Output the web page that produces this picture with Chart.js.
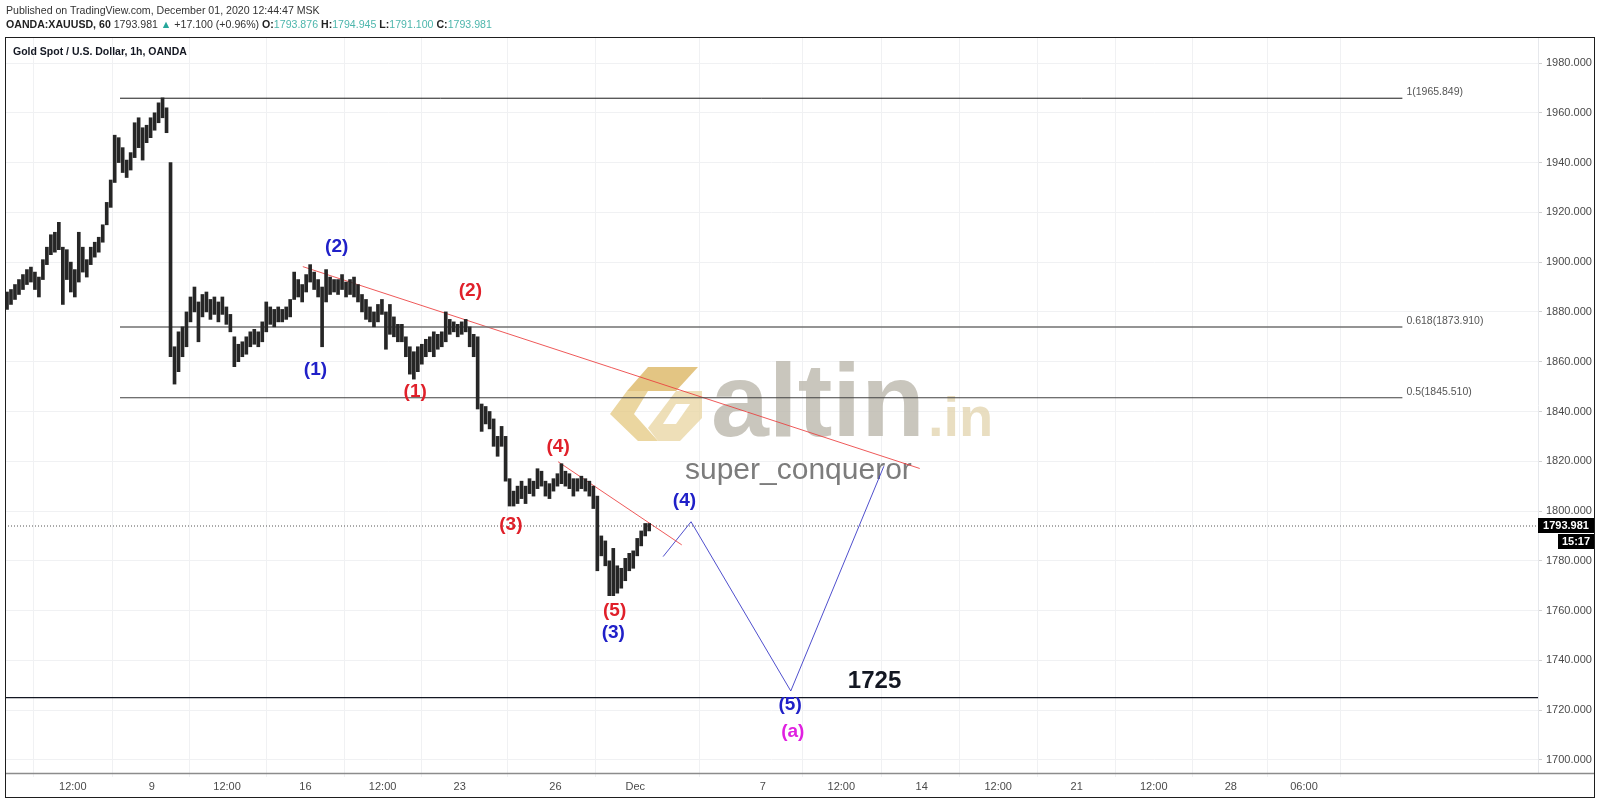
<!DOCTYPE html>
<html>
<head>
<meta charset="utf-8">
<title>XAUUSD 1h</title>
<script src="https://cdn.jsdelivr.net/npm/chart.js@4.4.0/dist/chart.umd.min.js"></script>
<style>
  body { margin: 0; background: #fff; font-family: "Liberation Sans", Arial, sans-serif; }
  #wrap { position: relative; width: 1600px; height: 804px; overflow: hidden; }
  #chart { position: absolute; left: 0; top: 0; }
  .hdr { position: absolute; left: 6px; font-size: 10.6px; color: #333; white-space: nowrap; line-height: 13px; }
  .hdr b { font-weight: bold; color: #222; }
  .up { color: #26a69a; }
  .val { color: #4db6ac; }
  #title { position: absolute; left: 13px; top: 45px; font-size: 10.5px; font-weight: bold; color: #131722; white-space: nowrap; }
</style>
</head>
<body>
<div id="wrap">
  <canvas id="chart" width="1600" height="804"></canvas>
  <div class="hdr" style="top:4px">Published on TradingView.com, December 01, 2020 12:44:47 MSK</div>
  <div class="hdr" style="top:18px"><b>OANDA:XAUUSD, 60</b> 1793.981 <span class="up">&#9650;</span> +17.100 (+0.96%) <b>O:</b><span class="val">1793.876</span> <b>H:</b><span class="val">1794.945</span> <b>L:</b><span class="val">1791.100</span> <b>C:</b><span class="val">1793.981</span></div>
  <div id="title">Gold Spot / U.S. Dollar, 1h, OANDA</div>
</div>
<script>
// ================= DATA =================
// price axis ticks
const priceTicks = [1700, 1720, 1740, 1760, 1780, 1800, 1820, 1840, 1860, 1880, 1900, 1920, 1940, 1960, 1980];

// time axis (x in hourly bar numbers)
const timeTickBars = [51, 110.5, 167, 226, 284, 342, 414, 474, 570, 629, 689.5, 747, 806, 864, 922, 977];
const timeTickLabels = ["12:00", "9", "12:00", "16", "12:00", "23", "26", "Dec", "7", "12:00", "14", "12:00", "21", "12:00", "28", "06:00"];

// price bars, one per 3 hours (low / high)
const barLows = [
  1881, 1883, 1885, 1887, 1889, 1891, 1892, 1889, 1886, 1893,
  1899, 1903, 1904, 1905, 1883, 1893, 1888, 1886, 1892, 1896,
  1894, 1899, 1902, 1904, 1908, 1915, 1922, 1932, 1940, 1936,
  1934, 1937, 1942, 1946, 1941, 1948, 1950, 1953, 1956, 1958,
  1952, 1862, 1851, 1856, 1862, 1866, 1876, 1880, 1868, 1878,
  1880, 1877, 1879, 1876, 1879, 1875, 1872, 1858, 1860, 1862,
  1863, 1866, 1867, 1866, 1868, 1872, 1875, 1874, 1876, 1876,
  1877, 1878, 1885, 1886, 1884, 1888, 1892, 1889, 1886, 1866,
  1884, 1887, 1888, 1887, 1889, 1886, 1887, 1886, 1884, 1880,
  1877, 1876, 1874, 1876, 1879, 1865, 1871, 1870, 1868, 1868,
  1862, 1855, 1853, 1856, 1859, 1862, 1864, 1862, 1865, 1866,
  1868, 1871, 1872, 1870, 1871, 1872, 1866, 1862, 1841, 1832,
  1835, 1833, 1826, 1822, 1826, 1812, 1802, 1802, 1803, 1805,
  1803, 1807, 1806, 1809, 1810, 1806, 1805, 1808, 1810, 1811,
  1810, 1809, 1806, 1808, 1809, 1808, 1806, 1801, 1776, 1782,
  1778, 1766, 1766, 1767, 1769, 1772, 1776, 1777, 1782, 1786,
  1790, 1792
];
const barHighs = [
  1888, 1889, 1891, 1893, 1895, 1897, 1898, 1896, 1894, 1901,
  1906, 1911, 1912, 1916, 1906, 1905, 1900, 1897, 1912, 1906,
  1901, 1906, 1908, 1910, 1915, 1924, 1933, 1951, 1950, 1946,
  1941, 1944, 1956, 1958, 1954, 1955, 1958, 1960, 1964, 1966,
  1962, 1940, 1866, 1872, 1874, 1880, 1886, 1890, 1884, 1887,
  1888, 1885, 1886, 1884, 1886, 1882, 1879, 1870, 1867, 1868,
  1870, 1872, 1873, 1872, 1876, 1884, 1882, 1881, 1882, 1881,
  1882, 1885, 1896, 1893, 1891, 1895, 1899, 1896, 1893, 1890,
  1897, 1894, 1893, 1893, 1895, 1892, 1893, 1894, 1891, 1887,
  1885, 1882, 1880, 1883, 1885, 1880, 1883, 1878, 1875, 1875,
  1870, 1866, 1864, 1866, 1867, 1869, 1870, 1872, 1871, 1872,
  1880, 1877, 1876, 1875, 1876, 1877, 1874, 1871, 1870, 1843,
  1842, 1840, 1837, 1830, 1834, 1830, 1813, 1808, 1810, 1812,
  1810, 1813, 1812, 1817, 1816, 1812, 1811, 1813, 1815, 1819,
  1816, 1815, 1813, 1813, 1814, 1813, 1812, 1810, 1806, 1790,
  1788, 1780, 1785, 1778, 1777, 1781, 1783, 1784, 1789, 1792,
  1795, 1795
];
const lastPrice = 1793.981;

// fibonacci retracement levels
const fibLevels = [1965.849, 1873.910, 1845.510];
const fibNames = ["1", "0.618", "0.5"];
const fibStartBar = 86.5;
const fibEndBar = 1051;

const targetLevel = 1725;

// drawings: [bar, price]
const trendTop = [[224, 1898.2], [688, 1817.1]];
const trendLow = [[416, 1819.8], [509, 1786.4]];
const projection = [[495, 1781.7], [516, 1795.7], [591, 1727.7], [661, 1818.0]];

// wave labels
const waveText = ["(2)", "(1)", "(4)", "(3)", "(5)", "(a)", "(2)", "(1)", "(4)", "(3)", "(5)"];
const waveBar = [249.5, 233.5, 511, 457.5, 590.5, 592.5, 350, 308.5, 416, 380.5, 458.5];
const wavePrice = [1906.1, 1856.9, 1804.0, 1751.1, 1722.2, 1711.4, 1888.3, 1848.0, 1826.0, 1794.6, 1759.8];
const waveColor = ["#2020c8", "#2020c8", "#2020c8", "#2020c8", "#2020c8", "#e020e0", "#e0202a", "#e0202a", "#e0202a", "#e0202a", "#e0202a"];

// ================= HELPERS =================
function pts(list) {
  return list.map(p => ({ x: p[0], y: p[1] }));
}
function flat(price, from, to) {
  return [{ x: from, y: price }, { x: to, y: price }];
}
function lineSet(data, color, width, dash) {
  return {
    type: "line",
    data: data,
    borderColor: color,
    borderWidth: width,
    borderDash: dash || [],
    pointRadius: 0,
    tension: 0,
    order: 2
  };
}

// ================= PLUGIN : DRAWINGS =================
const drawings = {
  id: "drawings",
  beforeDatasetsDraw(chart) {
    const c = chart.ctx;
    c.save();
    // watermark logo
    c.fillStyle = "rgba(218, 178, 90, 0.75)";
    c.beginPath();
    c.moveTo(648, 367); c.lineTo(698, 367); c.lineTo(676, 391); c.lineTo(627, 391);
    c.closePath(); c.fill();
    c.fillStyle = "rgba(226, 196, 120, 0.7)";
    c.beginPath();
    c.moveTo(627, 391); c.lineTo(648, 391); c.lineTo(634, 414); c.lineTo(658, 441);
    c.lineTo(638, 441); c.lineTo(610, 414);
    c.closePath(); c.fill();
    c.fillStyle = "rgba(232, 212, 160, 0.75)";
    c.beginPath();
    c.moveTo(676, 391); c.lineTo(702, 391); c.lineTo(702, 418); c.lineTo(680, 441); c.lineTo(658, 441);
    c.lineTo(648, 428); c.closePath(); c.fill();
    c.fillStyle = "#fff";
    c.beginPath();
    c.moveTo(676, 404); c.lineTo(690, 404); c.lineTo(676, 424); c.lineTo(663, 424);
    c.closePath(); c.fill();

    c.textBaseline = "alphabetic";
    c.textAlign = "left";
    c.fillStyle = "rgba(188, 184, 172, 0.8)";
    c.font = "bold 104px 'Liberation Sans', Arial, sans-serif";
    c.fillText("altin", 711, 436);
    c.fillStyle = "rgba(228, 214, 178, 0.8)";
    c.font = "bold 56px 'Liberation Sans', Arial, sans-serif";
    c.fillText(".in", 928, 436);
    c.fillStyle = "#7c7c7c";
    c.font = "30px 'Liberation Sans', Arial, sans-serif";
    c.fillText("super_conqueror", 685, 479);
    c.restore();
  },
  afterDatasetsDraw(chart) {
    const c = chart.ctx;
    const xs = chart.scales.x, ys = chart.scales.y;
    c.save();
    // fib labels
    c.font = "10.5px 'Liberation Sans', Arial, sans-serif";
    c.fillStyle = "#555";
    c.textAlign = "left";
    c.textBaseline = "middle";
    fibLevels.forEach((lv, i) => {
      c.fillText(fibNames[i] + "(" + lv.toFixed(3) + ")", xs.getPixelForValue(fibEndBar) + 4, ys.getPixelForValue(lv) - 6);
    });
    // wave labels
    c.font = "bold 19px 'Liberation Sans', Arial, sans-serif";
    c.textAlign = "center";
    waveText.forEach((t, i) => {
      c.fillStyle = waveColor[i];
      c.fillText(t, xs.getPixelForValue(waveBar[i]), ys.getPixelForValue(wavePrice[i]));
    });
    // target
    c.fillStyle = "#131722";
    c.font = "bold 24px 'Liberation Sans', Arial, sans-serif";
    c.fillText(String(targetLevel), xs.getPixelForValue(654), ys.getPixelForValue(1731.4));
    c.restore();
  },
  afterDraw(chart) {
    const c = chart.ctx;
    const a = chart.chartArea;
    const ys = chart.scales.y;
    c.save();
    // time axis line
    c.strokeStyle = "#8c8c8c";
    c.lineWidth = 1.5;
    c.beginPath(); c.moveTo(5, a.bottom + 0.5); c.lineTo(1595, a.bottom + 0.5); c.stroke();
    // frame
    c.strokeStyle = "#1e1e1e";
    c.lineWidth = 1;
    c.strokeRect(5.5, 37.5, 1589, 760);
    // last price label
    const y = Math.round(ys.getPixelForValue(lastPrice));
    c.fillStyle = "#000";
    c.fillRect(a.right, y - 8, 56, 15);
    c.fillRect(a.right + 20, y + 8, 36, 15);
    c.fillStyle = "#fff";
    c.font = "bold 11px 'Liberation Sans', Arial, sans-serif";
    c.textAlign = "center";
    c.textBaseline = "middle";
    c.fillText(lastPrice.toFixed(3), a.right + 28, y);
    c.fillText("15:17", a.right + 38, y + 16);
    c.restore();
  }
};

// ================= CHART =================
const candleData = barLows.map((lo, i) => ({ x: 1.5 + 3 * i, y: [lo, barHighs[i]] }));

const datasets = [
  {
    type: "bar",
    data: candleData,
    backgroundColor: "#262626",
    barThickness: 3,
    grouped: false,
    order: 1
  },
  lineSet(flat(fibLevels[0], fibStartBar, fibEndBar), "#1a1a1a", 1),
  lineSet(flat(fibLevels[1], fibStartBar, fibEndBar), "#707070", 1.5),
  lineSet(flat(fibLevels[2], fibStartBar, fibEndBar), "#404040", 1.2),
  lineSet(flat(targetLevel, 0, 1153), "#131722", 1.2),
  lineSet(flat(lastPrice, 0, 1153), "#555", 1, [1, 2]),
  lineSet(pts(trendTop), "rgba(235, 60, 60, 0.85)", 1),
  lineSet(pts(trendLow), "rgba(235, 60, 60, 0.85)", 1),
  lineSet(pts(projection), "rgba(60, 60, 200, 0.9)", 1)
];

new Chart(document.getElementById("chart"), {
  type: "bar",
  data: { datasets: datasets },
  options: {
    responsive: false,
    animation: false,
    devicePixelRatio: 1,
    layout: { padding: { left: 5, top: 37, right: 5, bottom: 6 } },
    plugins: { legend: { display: false }, tooltip: { enabled: false } },
    scales: {
      x: {
        type: "linear",
        min: 0,
        max: 1153,
        offset: false,
        border: { display: false },
        grid: { color: "#f0f1f3", tickLength: 4, tickColor: "#f0f1f3" },
        ticks: {
          autoSkip: false,
          maxRotation: 0,
          padding: 3,
          color: "#4a4a4a",
          font: { size: 11, family: "'Liberation Sans', Arial, sans-serif" },
          callback: (v, i) => timeTickLabels[i]
        },
        afterBuildTicks: s => { s.ticks = timeTickBars.map(v => ({ value: v })); },
        afterFit: s => { s.height = 25; }
      },
      y: {
        position: "right",
        min: 1694.75,
        max: 1990.45,
        border: { color: "#e6e8ec" },
        grid: { color: "#f0f1f3", tickLength: 4, tickColor: "#d0d0d0" },
        ticks: {
          padding: 4,
          color: "#4a4a4a",
          font: { size: 11, family: "'Liberation Sans', Arial, sans-serif" },
          callback: v => Number(v).toFixed(3)
        },
        afterBuildTicks: s => { s.ticks = priceTicks.map(v => ({ value: v })); },
        afterFit: s => { s.width = 57; }
      }
    }
  },
  plugins: [drawings]
});
</script>
</body>
</html>
